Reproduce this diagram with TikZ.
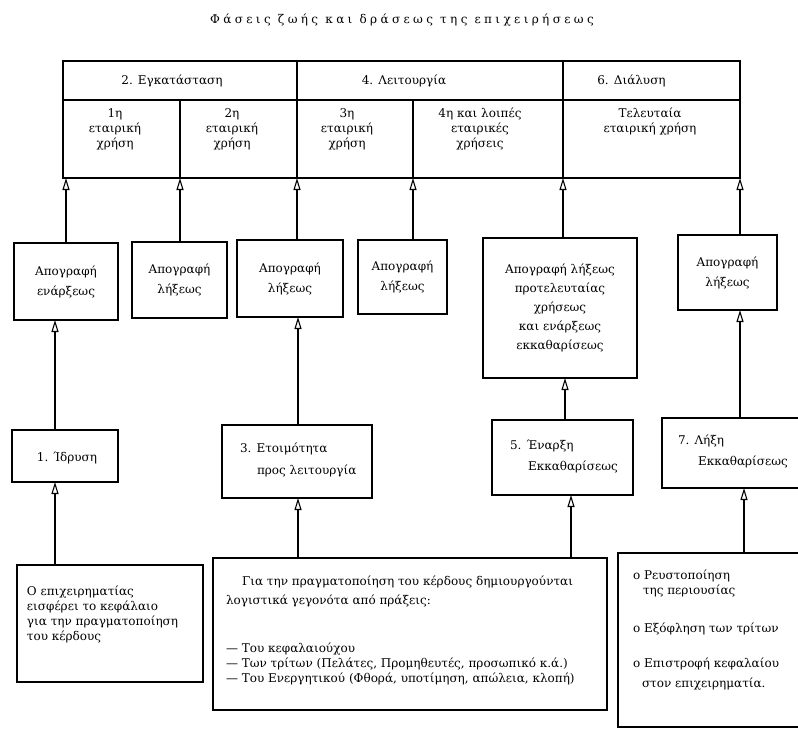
\documentclass[tikz,border=0pt]{standalone}
\usepackage{fontspec}
\setmainfont{DejaVu Serif}
\usetikzlibrary{arrows.meta}
\begin{document}
\begin{tikzpicture}[x=1pt,y=-1pt,
  every node/.style={font=\fontsize{12}{15}\selectfont, inner sep=0pt, outer sep=0pt},
  box/.style={draw, line width=1.4pt, rectangle},
  txt/.style={align=left, anchor=north west},
  arr/.style={line width=1.2pt, -{Triangle[open, length=12pt, width=7pt, line width=1.1pt]}},
]
\useasboundingbox (0,0) rectangle (798,729);
\clip (0,0) rectangle (798,729);

% title
\node (title) at (402,20) {\addfontfeature{LetterSpace=28}Φάσεις ζωής και δράσεως της επιχειρήσεως};

% table header
\node[box, minimum width=234, minimum height=39] (h1) at (180,80.5) {};
\node[box, minimum width=266, minimum height=39] (h2) at (430,80.5) {};
\node[box, minimum width=177, minimum height=39] (h3) at (651.5,80.5) {};
\node at ([xshift=-8]h1.center) {2. Εγκατάσταση};
\node at ([xshift=-26]h2.center) {4. Λειτουργία};
\node at ([xshift=-20]h3.center) {6. Διάλυση};

% table second row
\node[box, minimum width=117, minimum height=78] (c1) at (121.5,139) {};
\node[box, minimum width=117, minimum height=78] (c2) at (238.5,139) {};
\node[box, minimum width=116, minimum height=78] (c3) at (355,139) {};
\node[box, minimum width=150, minimum height=78] (c4) at (488,139) {};
\node[box, minimum width=177, minimum height=78] (c5) at (651.5,139) {};
\node[align=center, anchor=north] at (115,109) {1η\\εταιρική\\χρήση};
\node[align=center, anchor=north] at (232,109) {2η\\εταιρική\\χρήση};
\node[align=center, anchor=north] at (347,109) {3η\\εταιρική\\χρήση};
\node[align=center, anchor=north] at (480,108) {4η και λοιπές\\εταιρικές\\χρήσεις};
\node[align=center, anchor=north] at (650,108) {Τελευταία\\εταιρική χρήση};

% middle boxes (inventories)
\begin{scope}[every node/.append style={font=\fontsize{12}{20}\selectfont, align=center}]
\node[box, minimum width=104, minimum height=77] (m1) at (66,281.5) {Απογραφή\\ενάρξεως};
\node[box, minimum width=95, minimum height=76] (m2) at (179.5,280) {Απογραφή\\λήξεως};
\node[box, minimum width=106, minimum height=77] (m3) at (290,278.5) {Απογραφή\\λήξεως};
\node[box, minimum width=89, minimum height=74] (m4) at (402.5,277) {Απογραφή\\λήξεως};
\node[box, minimum width=154, minimum height=140, font=\fontsize{12}{19}\selectfont] (m5) at (560,308) {Απογραφή λήξεως\\προτελευταίας\\χρήσεως\\και ενάρξεως\\εκκαθαρίσεως};
\node[box, minimum width=99, minimum height=75] (m6) at (727.5,272.5) {Απογραφή\\λήξεως};
\end{scope}

% lower boxes (phases)
\node[box, minimum width=106, minimum height=52] (l1) at (65,456) {};
\node at (67,458) {1. Ίδρυση};
\node[box, minimum width=150, minimum height=73] (l3) at (297,461.5) {};
\node[txt, font=\fontsize{12}{22}\selectfont] at (240,443) {3. Ετοιμότητα\\\hspace*{17pt}προς λειτουργία};
\node[box, minimum width=141, minimum height=75] (l5) at (562.5,457.5) {};
\node[txt, font=\fontsize{12}{21}\selectfont] at (510,440) {5. Έναρξη\\\hspace*{18pt}Εκκαθαρίσεως};
\node[box, minimum width=143, minimum height=70] (l7) at (733.5,453) {};
\node[txt, font=\fontsize{12}{21}\selectfont] at (678,435) {7. Λήξη\\\hspace*{20pt}Εκκαθαρίσεως};

% bottom boxes (explanations)
\node[box, minimum width=186, minimum height=117] (bA) at (110,623.5) {};
\node[txt] at (27,586) {Ο επιχειρηματίας\\εισφέρει το κεφάλαιο\\για την πραγματοποίηση\\του κέρδους};
\node[box, minimum width=394, minimum height=152] (bB) at (410,634) {};
\node[txt] at (226,576) {\hspace*{16pt}Για την πραγματοποίηση του κέρδους δημιουργούνται\\[4pt]λογιστικά γεγονότα από πράξεις:\\[33pt]— Του κεφαλαιούχου\\— Των τρίτων (Πελάτες, Προμηθευτές, προσωπικό κ.ά.)\\— Του Ενεργητικού (Φθορά, υποτίμηση, απώλεια, κλοπή)};
\node[box, minimum width=187, minimum height=174] (bC) at (711.5,640) {};
\node[txt] at (633,570) {ο Ρευστοποίηση\\\hspace*{10pt}της περιουσίας\\[23pt]ο Εξόφληση των τρίτων\\[20pt]ο Επιστροφή κεφαλαίου\\[5pt]\hspace*{9pt}στον επιχειρηματία.};

% connector positions
\coordinate (xA) at (55,0);
\coordinate (xC) at (298,0);
\coordinate (xE) at (565,0);
\coordinate (xE2) at (571,0);
\coordinate (xG) at (740,0);
\coordinate (xG2) at (744,0);

% inventories -> table
\draw[arr] (m1.north) -- (m1.north |- c1.south);
\draw[arr] (m2.north -| c2.south west) -- (c2.south west);
\draw[arr] (m3.north -| c3.south west) -- (c3.south west);
\draw[arr] (m4.north -| c4.south west) -- (c4.south west);
\draw[arr] (m5.north -| c5.south west) -- (c5.south west);
\draw[arr] (m6.north -| c5.south east) -- (c5.south east);

% phases -> inventories
\draw[arr] (l1.north -| xA) -- (m1.south -| xA);
\draw[arr] (l3.north -| xC) -- (m3.south -| xC);
\draw[arr] (l5.north -| xE) -- (m5.south -| xE);
\draw[arr] (l7.north -| xG) -- (m6.south -| xG);

% explanations -> phases
\draw[arr] (bA.north -| xA) -- (l1.south -| xA);
\draw[arr] (bB.north -| xC) -- (l3.south -| xC);
\draw[arr] (bB.north -| xE2) -- (l5.south -| xE2);
\draw[arr] (bC.north -| xG2) -- (l7.south -| xG2);
\end{tikzpicture}
\end{document}
